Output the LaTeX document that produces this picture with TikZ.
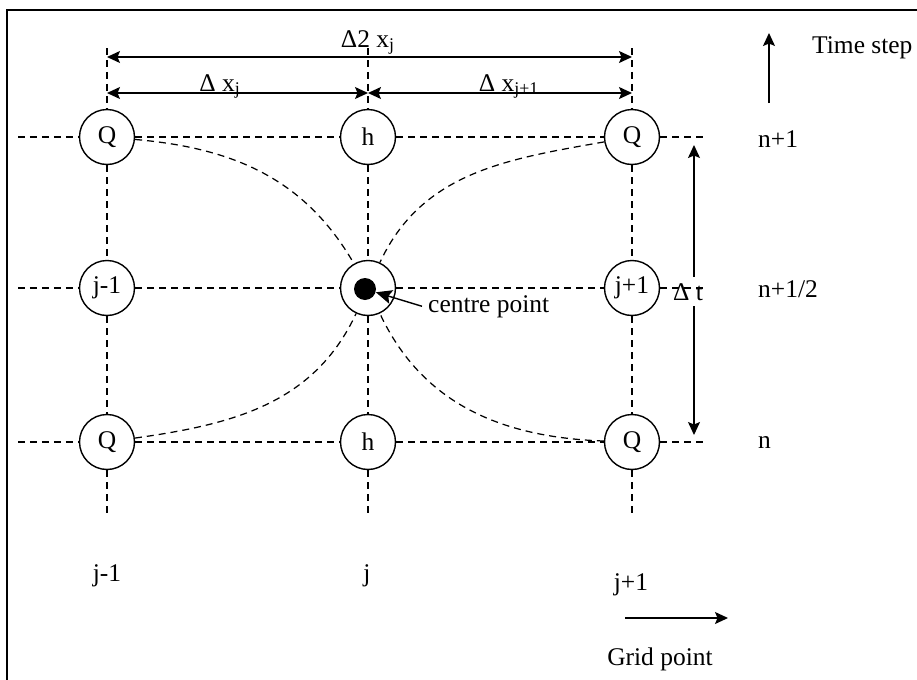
\documentclass[tikz,border=0pt]{standalone}
\usepackage{fontspec}
\setmainfont{Liberation Serif}
\usetikzlibrary{arrows.meta, positioning}

\begin{document}
\begin{tikzpicture}[x=0.02cm, y=-0.02cm,
  >={Stealth[length=2.6mm, width=2.4mm, inset=0.5mm]},
  font=\fontsize{14.5}{17}\selectfont,
  gridpt/.style={draw, circle, line width=0.8pt, minimum size=1.1cm,
    inner sep=0pt, fill=white},
  gridline/.style={dash pattern=on 1.4mm off 1mm, line width=0.7pt},
  dimline/.style={<->, line width=0.8pt},
  arrline/.style={->, line width=0.8pt}]
  \useasboundingbox (0,0) rectangle (917,680);
  % frame, only top and left edges are shown
  \draw[line width=1.1pt] (917,10) -- (7,10) -- (7,680);

  % grid points
  \node[gridpt] (Qa) at (107,137) {Q};
  \node[gridpt] (ha) at (368,137) {h};
  \node[gridpt] (Qb) at (632,137) {Q};
  \node[gridpt] (jm) at (107,288) {j-1};
  \node[gridpt] (c)  at (368,288) {};
  \node[gridpt] (jp) at (632,288) {j+1};
  \node[gridpt] (Qc) at (107,442) {Q};
  \node[gridpt] (hb) at (368,442) {h};
  \node[gridpt] (Qd) at (632,442) {Q};
  \node[circle, fill, minimum size=0.44cm, inner sep=0pt] (dot) at (365,289) {};

  % free ends of the grid lines
  \foreach \n/\x in {a/107, b/368, c/632} {
    \coordinate (top\n) at (\x,48);
    \coordinate (bot\n) at (\x,515);
  }
  \foreach \n/\y in {a/137, b/288, c/442} {
    \coordinate (lft\n) at (18,\y);
    \coordinate (rgt\n) at (708,\y);
  }

  % rows and columns
  \draw[gridline] (lfta) -- (Qa) -- (ha) -- (Qb) -- (rgta);
  \draw[gridline] (lftb) -- (jm) -- (c) -- (jp) -- (rgtb);
  \draw[gridline] (lftc) -- (Qc) -- (hb) -- (Qd) -- (rgtc);
  \draw[gridline] (topa) -- (Qa) -- (jm) -- (Qc) -- (bota);
  \draw[gridline] (topb) -- (ha) -- (c) -- (hb) -- (botb);
  \draw[gridline] (topc) -- (Qb) -- (jp) -- (Qd) -- (botc);

  % curves into the centre point
  \draw[gridline] (Qa) to[out=-5, in=120] (c);
  \draw[gridline] (Qb) to[out=190, in=65] (c);
  \draw[gridline] (Qc) to[out=8, in=-115] (c);
  \draw[gridline] (Qd) to[out=178, in=-65] (c);

  \node[anchor=base west] (cplabel) at (422,312) {centre point};
  \draw[->, line width=0.8pt, >={Stealth[length=3.2mm, width=2.8mm, inset=0.6mm]}]
    (cplabel.west) -- (dot);

  % space steps
  \coordinate (d2a) at (107,57);
  \coordinate (d2b) at (632,57);
  \coordinate (d1a) at (107,93);
  \coordinate (d1b) at (368,93);
  \coordinate (d1c) at (632,93);
  \draw[dimline] (d2a) -- (d2b);
  \draw[dimline] (d1a) -- (d1b);
  \draw[dimline] (d1b) -- (d1c);
  \node[anchor=base] (dx2) at (368,47) {Δ2 x\textsubscript{j}};
  \node[anchor=base] (dxa) at (220,91) {Δ x\textsubscript{j}};
  \node[anchor=base] (dxb) at (509,91) {Δ x\textsubscript{j+1}};

  % time step
  \node[anchor=base west] (tstep) at (806,53) {Time step};
  \coordinate (tsa) at (769,103);
  \coordinate (tsb) at (769,33);
  \draw[arrline] (tsa) -- (tsb);

  \node[anchor=base west] (ra) at (752,147) {n+1};
  \node[anchor=base west] (rb) at (752,297) {n+1/2};
  \node[anchor=base west] (rc) at (752,448) {n};

  % time interval
  \node[anchor=base] (dt) at (688,300) {Δ t};
  \coordinate (dttop) at (694,145);
  \coordinate (dtbot) at (694,435);
  \draw[arrline] (dttop |- dt.north) -- (dttop);
  \draw[arrline] (dttop |- dt.south) -- (dtbot);

  % grid point labels
  \node[anchor=base] (ca) at (107,581) {j-1};
  \node[anchor=base] (cb) at (367,581) {j};
  \node[anchor=base] (cc) at (631,590) {j+1};
  \coordinate (gpa) at (625,618);
  \coordinate (gpb) at (728,618);
  \draw[arrline] (gpa) -- (gpb);
  \node[anchor=base] (gp) at (660,665) {Grid point};
\end{tikzpicture}
\end{document}
